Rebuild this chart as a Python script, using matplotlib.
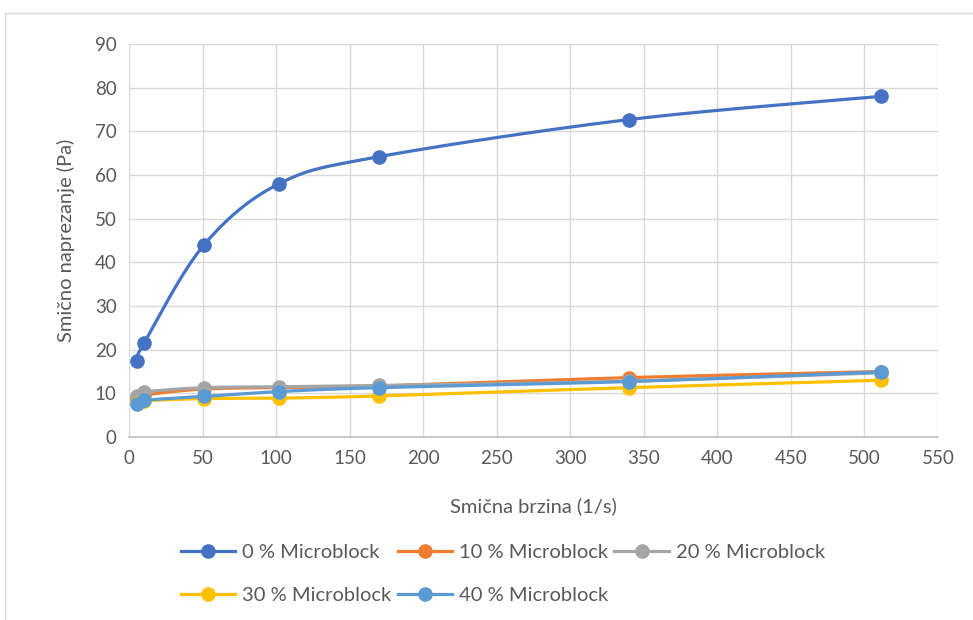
import numpy as np
import matplotlib
matplotlib.use("Agg")
import matplotlib.pyplot as plt
from matplotlib.lines import Line2D
from matplotlib.patches import Rectangle

plt.rcParams['font.family'] = ['Lato', 'DejaVu Sans']

# shear rate (1/s)
brzina = [5.1, 10.2, 51, 102, 170, 340, 511]
labels = ["0 % Microblock", "10 % Microblock", "20 % Microblock",
          "30 % Microblock", "40 % Microblock"]
mb0 = [17.5, 21.5, 44.0, 58.0, 64.2, 72.7, 78.0]
mb10 = [8.6, 9.6, 11.0, 11.3, 11.7, 13.6, 15.0]
mb20 = [9.3, 10.3, 11.3, 11.5, 11.8, 12.8, 14.7]
mb30 = [7.9, 8.3, 8.8, 8.9, 9.4, 11.3, 13.0]
mb40 = [7.6, 8.4, 9.3, 10.4, 11.3, 12.7, 14.9]
series = [mb0, mb10, mb20, mb30, mb40]
colors = ["#4472C4", "#ED7D31", "#A5A5A5", "#FFC000", "#5B9BD5"]

fig = plt.figure(figsize=(9.73, 6.2), dpi=100)
fig.patches.append(Rectangle((5 / 973, -0.01), 1.0, 1 - 13 / 620 + 0.01,
                             transform=fig.transFigure, fill=False,
                             edgecolor="#D9D9D9", linewidth=1.0))
ax = fig.add_axes([129 / 973, 1 - 437 / 620, (938 - 129) / 973, (437 - 44) / 620])
ax.set_xlim(0, 550)
ax.set_ylim(0, 90)


def smooth(x, y, n=30):
    # Catmull-Rom style bezier in display space (like Excel smoothed lines)
    pts = ax.transData.transform(np.column_stack([x, y]))
    out = []
    for i in range(len(pts) - 1):
        p0 = pts[max(i - 1, 0)]
        p1 = pts[i]
        p2 = pts[i + 1]
        p3 = pts[min(i + 2, len(pts) - 1)]
        c1 = p1 + (p2 - p0) / 6
        c2 = p2 - (p3 - p1) / 6
        t = np.linspace(0, 1, n)[:, None]
        seg = ((1 - t) ** 3 * p1 + 3 * (1 - t) ** 2 * t * c1
               + 3 * (1 - t) * t ** 2 * c2 + t ** 3 * p2)
        out.append(seg)
    curve = np.vstack(out)
    d = ax.transData.inverted().transform(curve)
    return d[:, 0], d[:, 1]


handles = []
for vals, c, lab in zip(series, colors, labels):
    sx, sy = smooth(brzina, vals)
    ax.plot(sx, sy, color=c, linewidth=2.3, zorder=3)
    ax.plot(brzina, vals, linestyle="none", marker="o", markersize=9.5,
            color=c, zorder=4, clip_on=False)
    handles.append(Line2D([], [], color=c, linewidth=2.3, marker="o",
                          markersize=9.5, label=lab))

ax.set_xticks(np.arange(0, 551, 50))
ax.set_yticks(np.arange(0, 91, 10))
ax.grid(True, color="#D9D9D9", linewidth=1.0)
ax.set_axisbelow(True)
for s in ["top", "right", "left"]:
    ax.spines[s].set_visible(False)
ax.spines["bottom"].set_color("#BFBFBF")
ax.spines["bottom"].set_linewidth(1.2)
ax.tick_params(length=0, labelsize=13.5, colors="#595959", pad=9)

ax.set_xlabel("Smična brzina (1/s)", fontsize=14.5, color="#595959", labelpad=22)
ax.set_ylabel("Smično naprezanje (Pa)", fontsize=14.5, color="#595959", labelpad=14)

order = [0, 3, 1, 4, 2]
leg = fig.legend([handles[i] for i in order], [labels[i] for i in order],
                 loc="center", bbox_to_anchor=(0.517, 1 - 574 / 620), ncol=3,
                 frameon=False, fontsize=14.5, handlelength=2.7,
                 handletextpad=0.35, columnspacing=0.3, labelspacing=1.25,
                 labelcolor="#595959")

fig.savefig("out.png", dpi=100)
